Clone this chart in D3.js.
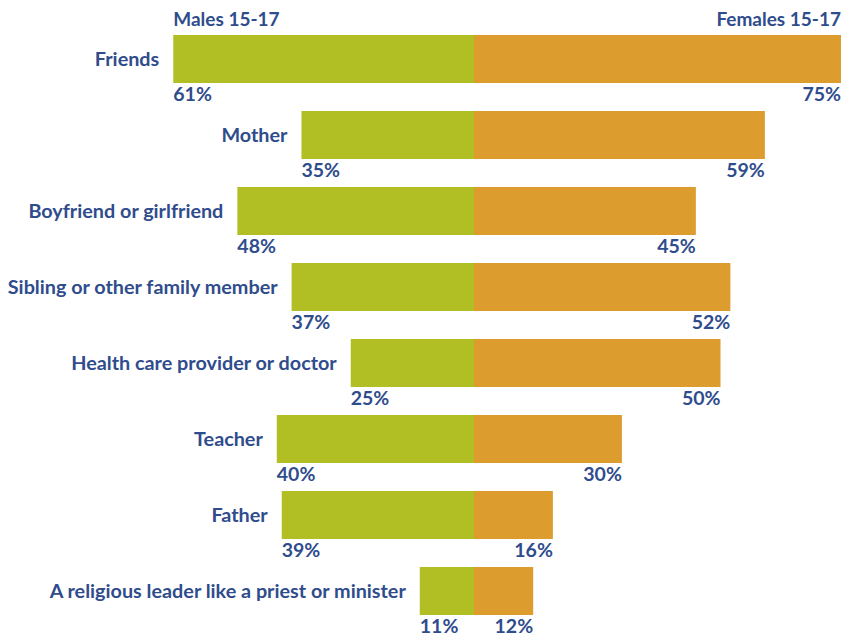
<!DOCTYPE html>
<html><head><meta charset="utf-8">
<script src="https://cdn.jsdelivr.net/npm/d3@7"></script>
<style>
html,body{margin:0;padding:0;background:#fff;}
svg text{font-family:Lato,"Open Sans",sans-serif;font-weight:bold;fill:#2f4c8c;}
</style></head>
<body><svg id="c" width="841" height="636"></svg>
<script>
const categories = ["Friends","Mother","Boyfriend or girlfriend","Sibling or other family member","Health care provider or doctor","Teacher","Father","A religious leader like a priest or minister"];
const males = [61,35,48,37,25,40,39,11];
const females = [75,59,45,52,50,30,16,12];
const seriesNames = ["Males 15-17","Females 15-17"];

const W=841,H=636;
const svg=d3.select("#c");
const cx=474, pxPer=4.93;
const xL=d3.scaleLinear().domain([0,100]).range([cx,cx-100*pxPer]);
const xR=d3.scaleLinear().domain([0,100]).range([cx,cx+100*pxPer]);
const y=d3.scaleBand().domain(categories).range([35,35+76*8]).paddingInner(28/76).paddingOuter(0).align(0);
const bw=48;
const yPos=c=>35+categories.indexOf(c)*76;

const data=categories.map((c,i)=>({c,m:males[i],f:females[i]}));
const g=svg.append("g");
g.selectAll("rect.m").data(data).join("rect").attr("class","m")
  .attr("x",d=>xL(d.m)).attr("y",d=>yPos(d.c)).attr("width",d=>xL(0)-xL(d.m)).attr("height",bw).attr("fill","#b2bf24");
g.selectAll("rect.f").data(data).join("rect").attr("class","f")
  .attr("x",cx).attr("y",d=>yPos(d.c)).attr("width",d=>Math.min(xR(d.f),W)-cx).attr("height",bw).attr("fill","#dc9c2e");

g.selectAll("text.cat").data(data).join("text").attr("class","cat")
  .attr("x",d=>xL(d.m)-14).attr("y",d=>yPos(d.c)+bw/2).attr("dy","0.36em")
  .attr("text-anchor","end").style("font-size","19.8px").text(d=>d.c);
g.selectAll("text.ml").data(data).join("text").attr("class","ml")
  .attr("x",d=>xL(d.m)).attr("y",d=>yPos(d.c)+bw+17.5)
  .attr("text-anchor","start").style("font-size","19.5px").text(d=>d.m+"%");
g.selectAll("text.fl").data(data).join("text").attr("class","fl")
  .attr("x",d=>Math.min(xR(d.f),W)).attr("y",d=>yPos(d.c)+bw+17.5)
  .attr("text-anchor","end").style("font-size","19.5px").text(d=>d.f+"%");

svg.append("text").attr("x",xL(males[0])).attr("y",26).attr("text-anchor","start").style("font-size","19px").text(seriesNames[0]);
svg.append("text").attr("x",W).attr("y",26).attr("text-anchor","end").style("font-size","19px").text(seriesNames[1]);
</script></body></html>
